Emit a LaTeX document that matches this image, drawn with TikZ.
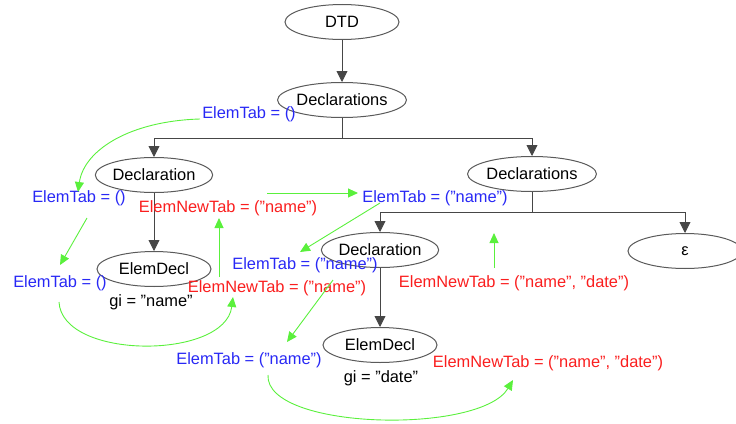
\documentclass[tikz,border=0pt]{standalone}
\usepackage{fontspec}
\setmainfont{Liberation Sans}[Ligatures=NoCommon]
\usetikzlibrary{shapes.geometric,arrows.meta}
\definecolor{lblblue}{RGB}{40,40,245}
\definecolor{lblred}{RGB}{250,30,30}
\definecolor{lblgreen}{RGB}{90,240,60}
\definecolor{edgegray}{RGB}{70,70,70}
\definecolor{ellgray}{RGB}{90,90,90}
\begin{document}
\begin{tikzpicture}[x=1pt,y=-1pt,
  every node/.style={font=\fontsize{16.4}{19}\selectfont, inner sep=0pt},
  tnode/.style={ellipse, draw=ellgray, line width=1pt, fill=white, minimum width=114pt, minimum height=35pt},
  treeline/.style={draw=edgegray, line width=0.9pt},
  treearr/.style={treeline, -{Triangle[length=11pt,width=11pt]}},
  garr/.style={draw=lblgreen, line width=0.9pt, -{Triangle[length=10pt,width=9pt]}},
  bl/.style={text=lblblue},
  rd/.style={text=lblred},
  bk/.style={text=black}]
\useasboundingbox (0,0) rectangle (736,423);
% tree nodes
\node[tnode] (dtd) at (342,22) {DTD};
\node[tnode] (decls0) at (342,100) {Declarations};
\node[tnode] (declL) at (154,175) {Declaration};
\node[tnode] (declsR) at (532,174) {Declarations};
\node[tnode] (edL) at (154,269) {ElemDecl};
\node[tnode] (declR) at (380,250) {Declaration};
\node[tnode] (eps) at (685,251) {ε};
\node[tnode] (edR) at (380,345) {ElemDecl};
% tree edges
\draw[treearr] (dtd) -- (decls0);
\draw[treeline] (decls0.south) -- ++(0,20) coordinate (j1);
\draw[treearr] (j1) -| (declL.north);
\draw[treearr] (j1) -| (declsR.north);
\draw[treeline] (declsR.south) -- ++(0,20) coordinate (j2);
\draw[treearr] (j2) -| (declR.north);
\draw[treearr] (j2) -| (eps.north);
\draw[treearr] (declL) -- (edL);
\draw[treearr] (declR) -- (edR);
% labels
\node[bl] (t1) at (249,114) {ElemTab = ()};
\node[bl] (t2) at (79,198) {ElemTab = ()};
\node[rd] (n1) at (228,208) {ElemNewTab = ("name")};
\node[bl] (t3) at (435,198) {ElemTab = ("name")};
\node[bl] (t4) at (60,283) {ElemTab = ()};
\node[bk] (g1) at (151,302) {gi = "name"};
\node[bl] (t5) at (305,265) {ElemTab = ("name")};
\node[rd] (n2) at (277,288) {ElemNewTab = ("name")};
\node[rd] (n3) at (514,283) {ElemNewTab = ("name", "date")};
\node[bl] (t6) at (249,360) {ElemTab = ("name")};
\node[bk] (g2) at (381,378) {gi = "date"};
\node[rd] (n4) at (548,363) {ElemNewTab = ("name", "date")};
% green flow arrows
\coordinate (a1s) at (200,119);
\coordinate (a1e) at (78,192);
\draw[garr] (a1s) .. controls (130,121) and (84,150) .. (a1e);
\coordinate (a2s) at (267,193);
\coordinate (a2e) at (358,193);
\draw[garr] (a2s) -- (a2e);
\coordinate (a3s) at (87,218);
\coordinate (a3e) at (60,265);
\draw[garr] (a3s) -- (a3e);
\coordinate (a4s) at (59,302);
\coordinate (a4e) at (233,297);
\draw[garr] (a4s) .. controls (62,360) and (225,360) .. (a4e);
\coordinate (a5s) at (219,277);
\coordinate (a5e) at (219,218);
\draw[garr] (a5s) -- (a5e);
\coordinate (a6s) at (380,203);
\coordinate (a6e) at (300,252);
\draw[garr] (a6s) -- (a6e);
\coordinate (a7s) at (333,280);
\coordinate (a7e) at (287,342);
\draw[garr] (a7s) -- (a7e);
\coordinate (a8s) at (268,375);
\coordinate (a8e) at (513,380);
\draw[garr] (a8s) .. controls (265,430) and (480,435) .. (a8e);
\coordinate (a9s) at (494,268);
\coordinate (a9e) at (494,233);
\draw[garr] (a9s) -- (a9e);
\end{tikzpicture}
\end{document}
